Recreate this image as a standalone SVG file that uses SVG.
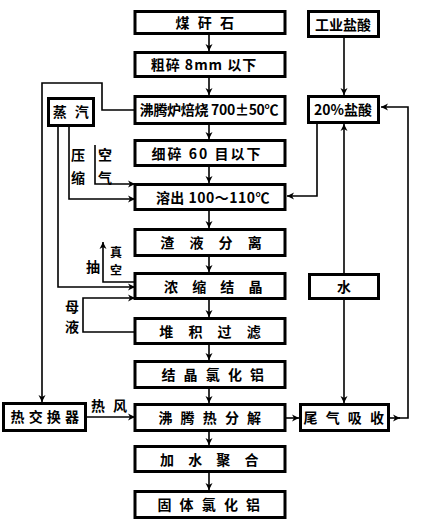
<svg xmlns="http://www.w3.org/2000/svg" width="428" height="521" viewBox="0 0 428 521">
<defs>
<marker id="ah" markerWidth="8" markerHeight="8" refX="7" refY="4" orient="auto" markerUnits="userSpaceOnUse">
<path d="M0,0.5 L7,4 L0,7.5 L2,4 Z" fill="#000"/>
</marker>
</defs>
<style>
.box{fill:#fff;stroke:#000;stroke-width:3}
.ln{fill:none;stroke:#000;stroke-width:1.6}
text{font-family:"Noto Sans CJK SC","Noto Sans",sans-serif;font-size:14px;font-weight:bold;fill:#000;text-anchor:middle}
.sm{font-size:12px}
.s2{letter-spacing:2.5px}
.s5{letter-spacing:5.5px}
.s6{letter-spacing:6px}
</style>
<rect width="428" height="521" fill="#fff"/>
<g id="connectors">
<path class="ln" d="M209,35 V51" marker-end="url(#ah)"/>
<path class="ln" d="M209,78 V95" marker-end="url(#ah)"/>
<path class="ln" d="M209,125 V139" marker-end="url(#ah)"/>
<path class="ln" d="M209,167 V183" marker-end="url(#ah)"/>
<path class="ln" d="M209,211 V228" marker-end="url(#ah)"/>
<path class="ln" d="M209,257 V272" marker-end="url(#ah)"/>
<path class="ln" d="M209,300 V317" marker-end="url(#ah)"/>
<path class="ln" d="M209,345 V360" marker-end="url(#ah)"/>
<path class="ln" d="M209,389 V403" marker-end="url(#ah)"/>
<path class="ln" d="M209,432 V445" marker-end="url(#ah)"/>
<path class="ln" d="M209,473 V490" marker-end="url(#ah)"/>
<path class="ln" d="M344,38 V95" marker-end="url(#ah)"/>
<path class="ln" d="M317,124 V196 H287" marker-end="url(#ah)"/>
<path class="ln" d="M344,273 V124" marker-end="url(#ah)"/>
<path class="ln" d="M344,300 V403" marker-end="url(#ah)"/>
<path class="ln" d="M286,418 H299" marker-end="url(#ah)"/>
<path class="ln" d="M390,418 H400" marker-end="url(#ah)"/>
<path class="ln" d="M399,418 H408 V107 H381" marker-end="url(#ah)"/>
<path class="ln" d="M135,110 H102 V83 H42 V402" marker-end="url(#ah)"/>
<path class="ln" d="M87,417 H135" marker-end="url(#ah)"/>
<path class="ln" d="M69,127 V199 H135" marker-end="url(#ah)"/>
<path class="ln" d="M95,145 V184 H135" marker-end="url(#ah)"/>
<path class="ln" d="M58,127 V287 H135" marker-end="url(#ah)"/>
<path class="ln" d="M135,282 H103 V242" marker-end="url(#ah)"/>
<path class="ln" d="M135,332 H83 V298 H135" marker-end="url(#ah)"/>
</g>
<g id="n1"><rect class="box" x="135" y="11.5" width="150" height="22"/><text class="s2" x="206" y="28">煤 矸 石</text></g>
<g id="n2"><rect class="box" x="135" y="52.5" width="150" height="24"/><text x="204" y="70" style="letter-spacing:1px">粗碎 8mm 以下</text></g>
<g id="n3"><rect class="box" x="135" y="96.5" width="150" height="27"/><text x="209" y="115" style="letter-spacing:-0.3px">沸腾炉焙烧 700±50℃</text></g>
<g id="n4"><rect class="box" x="135" y="140.5" width="150" height="25"/><text x="207" y="159" style="letter-spacing:2px">细碎 60 目以下</text></g>
<g id="n5"><rect class="box" x="135" y="184.5" width="150" height="25"/><text x="213" y="203" style="letter-spacing:0.5px">溶出 100～110℃</text></g>
<g id="n6"><rect class="box" x="135" y="229.5" width="150" height="26"/><text class="s6" x="214" y="248">渣 液 分 离</text></g>
<g id="n7"><rect class="box" x="135" y="273.5" width="150" height="25"/><text class="s5" x="216" y="292">浓 缩 结 晶</text></g>
<g id="n8"><rect class="box" x="135" y="318.5" width="150" height="25"/><text class="s6" x="213" y="337">堆 积 过 滤</text></g>
<g id="n9"><rect class="box" x="135" y="361.5" width="150" height="26"/><text class="s2" x="214" y="380">结 晶 氯 化 铝</text></g>
<g id="n10"><rect class="box" x="135" y="404.5" width="150" height="26"/><text class="s2" x="211" y="423">沸 腾 热 分 解</text></g>
<g id="n11"><rect class="box" x="135" y="446.5" width="150" height="25"/><text class="s5" x="212" y="465">加 水 聚 合</text></g>
<g id="n12"><rect class="box" x="135" y="491.5" width="150" height="26"/><text class="s2" x="210" y="510">固 体 氯 化 铝</text></g>
<g id="n13"><rect class="box" x="308.5" y="11.5" width="70" height="25"/><text x="343" y="30">工业盐酸</text></g>
<g id="n14"><rect class="box" x="308.5" y="96.5" width="70" height="26"/><text x="343" y="115">20%盐酸</text></g>
<g id="n15"><rect class="box" x="309.5" y="274.5" width="69" height="24"/><text x="344" y="292">水</text></g>
<g id="n16"><rect class="box" x="300.5" y="404.5" width="88" height="26"/><text class="s2" x="345" y="423">尾 气 吸 收</text></g>
<g id="n17"><rect class="box" x="48.5" y="98.5" width="45" height="27"/><text class="s2" x="72" y="117">蒸 汽</text></g>
<g id="n18"><rect class="box" x="3.5" y="403.5" width="82" height="27"/><text style="letter-spacing:0.5px" x="45" y="422">热 交 换 器</text></g>
<g id="labels">
<text x="78" y="160">压</text>
<text x="78" y="183">缩</text>
<text x="105" y="160">空</text>
<text x="105" y="183">气</text>
<text x="93" y="272">抽</text>
<text class="sm" x="116" y="257">真</text>
<text class="sm" x="116" y="275">空</text>
<text x="72" y="312">母</text>
<text x="72" y="332">液</text>
<text x="98" y="411">热</text>
<text x="120" y="411">风</text>
</g>
</svg>
